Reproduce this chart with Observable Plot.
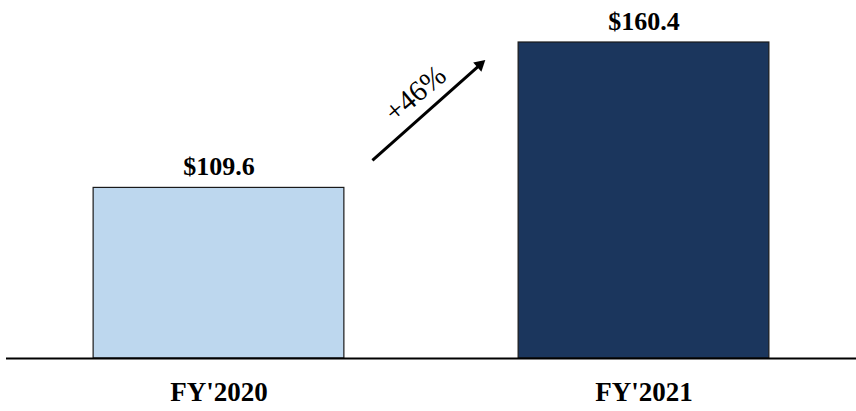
<!DOCTYPE html>
<html>
<head>
<meta charset="utf-8">
<script src="https://cdn.jsdelivr.net/npm/d3@7"></script>
<script src="https://cdn.jsdelivr.net/npm/@observablehq/plot@0.6"></script>
<style>
  html, body { margin: 0; padding: 0; background: #ffffff; }
  #chart svg { display: block; }
</style>
</head>
<body>
<div id="chart"></div>
<script>
// ---- data ----
const categories = ["FY'2020", "FY'2021"];
const values = [109.6, 160.4];
const valueLabels = ["$109.6", "$160.4"];
const barColors = ["#BDD7EE", "#1B365D"];
const yBase = 50;              // value axis starts here (baseline)
const growthLabels = ["+46%"];

const rows = categories.map((c, i) => ({
  i, category: c, value: values[i], label: valueLabels[i], color: barColors[i]
}));

const growth = [{label: growthLabels[0]}];
const serif = "Liberation Serif";

const chart = Plot.plot({
  width: 856,
  height: 411,
  marginTop: 42,
  marginBottom: 53,
  marginLeft: 6,
  marginRight: 0,
  x: {domain: [-0.5, 1.5], axis: null},
  y: {domain: [yBase, 160.4], axis: null},
  color: {type: "identity"},
  style: {fontFamily: serif, background: "#ffffff", color: "#000"},
  marks: [
    Plot.rectY(rows, {
      x1: d => d.i - 0.295,
      x2: d => d.i + 0.295,
      y1: () => yBase,
      y2: "value",
      fill: "color",
      stroke: "#1a1a1a",
      strokeWidth: 1.2
    }),
    Plot.ruleY([yBase], {stroke: "#000", strokeWidth: 2}),
    Plot.text(rows, {
      x: "i", y: "value", text: "label",
      lineAnchor: "bottom", dy: -13,
      fontFamily: serif, fontSize: 26, fontWeight: "bold", fill: "#000"
    }),
    Plot.text(rows, {
      x: "i", frameAnchor: "bottom", text: "category",
      lineAnchor: "bottom", dy: 42,
      fontFamily: serif, fontSize: 27, fontWeight: "bold", fill: "#000"
    }),
    // arrow shaft
    Plot.link(growth, {
      x1: () => 0.361, y1: () => 119.2,
      x2: () => 0.614, y2: () => 152.6,
      stroke: "#000", strokeWidth: 3
    }),
    // filled arrow head
    Plot.dot(growth, {
      x: () => 0.614, y: () => 152.6,
      symbol: "triangle2", r: 5.9, rotate: 48.4,
      fill: "#000", stroke: "none"
    }),
    Plot.text(growth, {
      x: () => 0.462, y: () => 142.5, text: "label",
      rotate: -40, fontFamily: serif, fontSize: 29, fill: "#000"
    })
  ]
});

document.getElementById("chart").appendChild(chart);
</script>
</body>
</html>
